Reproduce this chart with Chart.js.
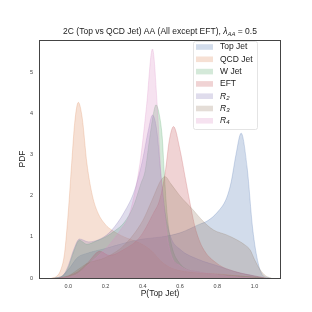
<!DOCTYPE html>
<html>
<head>
<meta charset="utf-8">
<script src="https://cdn.jsdelivr.net/npm/chart.js@4.4.1/dist/chart.umd.min.js"></script>
<style>
  html, body { margin: 0; padding: 0; background: #fff; }
</style>
</head>
<body>
<canvas id="c" width="312" height="312"></canvas>
<script>
// curve values (x = P(Top Jet), y = PDF)
const topX = [-0.08, -0.04, 0, 0.05, 0.1, 0.2, 0.3, 0.4, 0.5, 0.6, 0.7, 0.75, 0.8, 0.85, 0.875, 0.9, 0.928, 0.96, 0.99, 1.02, 1.047, 1.08];
const topY = [0, 0.03, 0.2, 0.5, 0.6, 0.72, 0.85, 0.95, 1.0, 1.1, 1.3, 1.4, 1.6, 1.95, 2.35, 3.0, 3.53, 2.7, 1.2, 0.35, 0.05, 0];

const qcdX = [-0.09, -0.06, -0.04, -0.02, 0, 0.02, 0.035, 0.054, 0.075, 0.1, 0.13, 0.16, 0.2, 0.233, 0.3, 0.385, 0.45, 0.5, 0.55, 0.6, 0.7, 0.8, 0.9, 1.0, 1.05];
const qcdY = [0, 0.05, 0.2, 0.6, 1.6, 2.9, 3.8, 4.28, 3.9, 2.8, 2.0, 1.58, 1.3, 1.17, 1.0, 0.85, 0.65, 0.4, 0.25, 0.18, 0.12, 0.1, 0.06, 0.02, 0];

const wX = [-0.07, -0.03, 0, 0.03, 0.06, 0.1, 0.15, 0.2, 0.25, 0.3, 0.35, 0.39, 0.412, 0.436, 0.455, 0.471, 0.49, 0.505, 0.515, 0.53, 0.55, 0.6, 0.7, 0.8, 0.9, 1.0, 1.05];
const wY = [0, 0.05, 0.25, 0.65, 0.92, 0.82, 0.9, 1.0, 1.15, 1.35, 1.75, 2.3, 2.6, 3.37, 3.95, 4.22, 3.95, 3.4, 2.6, 1.6, 0.9, 0.35, 0.15, 0.08, 0.05, 0.02, 0];

const eftX = [-0.05, 0, 0.05, 0.1, 0.17, 0.22, 0.3, 0.385, 0.457, 0.49, 0.52, 0.543, 0.565, 0.6, 0.627, 0.654, 0.68, 0.72, 0.8, 0.9, 1.0, 1.06];
const eftY = [0, 0.05, 0.15, 0.35, 0.65, 0.55, 0.7, 1.0, 1.58, 1.9, 2.56, 3.37, 3.69, 3.12, 2.47, 1.82, 1.25, 0.75, 0.35, 0.15, 0.05, 0];

const r2X = [-0.07, -0.03, 0, 0.03, 0.06, 0.11, 0.18, 0.23, 0.3, 0.357, 0.4, 0.43, 0.452, 0.475, 0.5, 0.52, 0.55, 0.6, 0.7, 0.8, 0.9, 1.0, 1.05];
const r2Y = [0, 0.05, 0.3, 0.7, 0.95, 0.88, 0.97, 1.15, 1.6, 2.15, 2.9, 3.6, 3.97, 3.6, 2.4, 1.6, 1.0, 0.7, 0.45, 0.3, 0.15, 0.05, 0];

const r3X = [-0.05, 0, 0.05, 0.1, 0.2, 0.3, 0.4, 0.45, 0.5, 0.52, 0.55, 0.6, 0.67, 0.72, 0.78, 0.85, 0.905, 0.95, 0.977, 1.0, 1.03, 1.06, 1.09];
const r3Y = [0, 0.05, 0.2, 0.35, 0.5, 0.8, 1.4, 1.9, 2.4, 2.47, 2.3, 2.0, 1.66, 1.4, 1.17, 1.05, 0.93, 0.8, 0.68, 0.45, 0.2, 0.05, 0];

const r4X = [-0.05, 0, 0.05, 0.1, 0.15, 0.21, 0.28, 0.33, 0.385, 0.42, 0.452, 0.478, 0.497, 0.52, 0.55, 0.6, 0.7, 0.8, 0.9, 1.0];
const r4Y = [0, 0.02, 0.1, 0.3, 0.5, 0.76, 1.17, 1.58, 2.8, 4.18, 5.58, 4.18, 2.56, 1.4, 0.6, 0.3, 0.15, 0.08, 0.03, 0];

const labels = ['Top Jet', 'QCD Jet', 'W Jet', 'EFT', 'R2', 'R3', 'R4'];
const colors = ['76,114,176', '221,132,82', '85,168,104', '196,78,82', '129,114,179', '147,120,96', '218,139,195'];
const xTicks = [0, 0.2, 0.4, 0.6, 0.8, 1.0];
const yTicks = [0, 1, 2, 3, 4, 5];

const seriesX = [topX, qcdX, wX, eftX, r2X, r3X, r4X];
const seriesY = [topY, qcdY, wY, eftY, r2Y, r3Y, r4Y];

const FONT = '"Liberation Sans", Arial, sans-serif';

const datasets = labels.map(function (name, i) {
  return {
    label: name,
    data: seriesX[i].map(function (x, j) { return { x: x, y: seriesY[i][j] }; }),
    backgroundColor: 'rgba(' + colors[i] + ',0.25)',
    borderColor: 'rgba(' + colors[i] + ',0.3)',
    borderWidth: 0.8,
    fill: 'origin',
    pointRadius: 0,
    cubicInterpolationMode: 'monotone',
    order: labels.length - i
  };
});

// draws title, axis names, legend and the frame
const extras = {
  id: 'extras',
  afterDraw: function (chart) {
    const ctx = chart.ctx;
    const a = chart.chartArea;
    ctx.save();

    // frame
    ctx.strokeStyle = '#444';
    ctx.lineWidth = 1;
    ctx.strokeRect(a.left + 0.5, a.top + 0.5, a.right - a.left - 1, a.bottom - a.top);

    // title
    ctx.fillStyle = '#222';
    ctx.textBaseline = 'alphabetic';
    const parts = [
      ['2C (Top vs QCD Jet) AA (All except EFT), ', '8.5px ' + FONT, 0],
      ['λ', 'italic 8.5px ' + FONT, 0],
      ['AA', 'italic 6px ' + FONT, 2],
      [' = 0.5', '8.5px ' + FONT, 0]
    ];
    let w = 0;
    parts.forEach(function (p) { ctx.font = p[1]; w += ctx.measureText(p[0]).width; });
    let x = 160 - w / 2;
    parts.forEach(function (p) {
      ctx.font = p[1];
      ctx.textAlign = 'left';
      ctx.fillText(p[0], x, 34 + p[2]);
      x += ctx.measureText(p[0]).width;
    });

    // axis names
    ctx.font = '8.5px ' + FONT;
    ctx.textAlign = 'center';
    ctx.textBaseline = 'middle';
    ctx.fillText('P(Top Jet)', (a.left + a.right) / 2, 294);
    ctx.save();
    ctx.translate(23, (a.top + a.bottom) / 2);
    ctx.rotate(-Math.PI / 2);
    ctx.fillText('PDF', 0, 0);
    ctx.restore();

    // legend
    const bx = 193, by = 41, bw = 64, bh = 88;
    ctx.fillStyle = 'rgba(255,255,255,0.8)';
    ctx.strokeStyle = '#ddd';
    ctx.lineWidth = 0.8;
    ctx.beginPath();
    ctx.roundRect(bx + 0.5, by + 0.5, bw, bh, 2);
    ctx.fill();
    ctx.stroke();
    labels.forEach(function (name, i) {
      const cy = 47 + i * 12.3;
      ctx.fillStyle = 'rgba(' + colors[i] + ',0.25)';
      ctx.fillRect(196, cy - 2.8, 17, 5.6);
      ctx.fillStyle = '#222';
      ctx.textAlign = 'left';
      ctx.textBaseline = 'middle';
      if (name[0] === 'R') {
        ctx.font = 'italic 8.5px ' + FONT;
        ctx.fillText('R', 220, cy);
        const rw = ctx.measureText('R').width;
        ctx.font = 'italic 6px ' + FONT;
        ctx.fillText(name.slice(1), 220 + rw, cy + 2);
      } else {
        ctx.font = '8.5px ' + FONT;
        ctx.fillText(name, 220, cy);
      }
    });
    ctx.restore();
  }
};

new Chart(document.getElementById('c'), {
  type: 'line',
  data: { datasets: datasets },
  options: {
    responsive: false,
    animation: false,
    layout: { padding: { top: 40, right: 31, left: 0, bottom: 0 } },
    plugins: { legend: { display: false }, title: { display: false }, tooltip: { enabled: false } },
    scales: {
      x: {
        type: 'linear',
        min: -0.157,
        max: 1.142,
        grid: { display: false, drawTicks: false },
        border: { display: false },
        afterBuildTicks: function (s) { s.ticks = xTicks.map(function (v) { return { value: v }; }); },
        afterFit: function (s) { s.height = 34; },
        ticks: {
          padding: 5,
          color: '#444',
          font: { family: FONT, size: 5.5 },
          maxRotation: 0,
          callback: function (v) { return v.toFixed(1); }
        }
      },
      y: {
        type: 'linear',
        min: 0,
        max: 5.8,
        grid: { display: false, drawTicks: false },
        border: { display: false },
        afterBuildTicks: function (s) { s.ticks = yTicks.map(function (v) { return { value: v }; }); },
        afterFit: function (s) { s.width = 39; },
        ticks: {
          padding: 6,
          color: '#444',
          font: { family: FONT, size: 5.5 },
          callback: function (v) { return String(v); }
        }
      }
    }
  },
  plugins: [extras]
});
</script>
</body>
</html>
